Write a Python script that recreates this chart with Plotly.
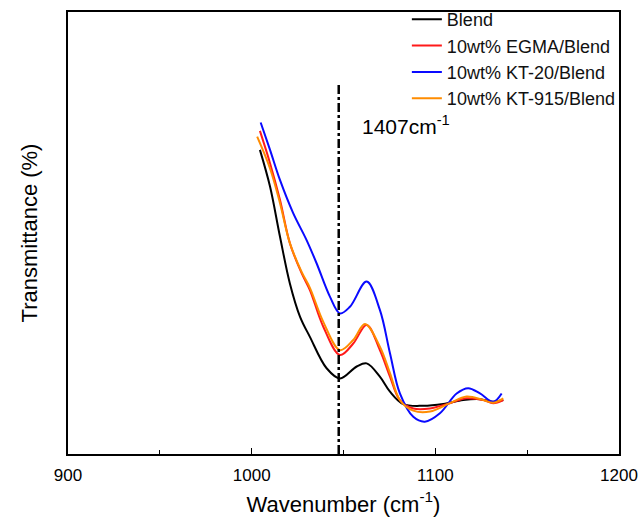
import plotly.graph_objects as go

names = ["Blend", "10wt% EGMA/Blend", "10wt% KT-20/Blend", "10wt% KT-915/Blend"]
colors = ["#000000", "#ff1a1a", "#0a0aff", "#ff8c00"]

x_blend = [1004.5, 1010, 1015.4, 1020.8, 1026.3, 1031.7, 1040.8, 1048.1, 1057.2, 1062.6, 1069.8, 1075.3, 1082.5, 1093.4, 1104.3, 1115.2, 1124.3, 1131.5, 1137]
y_blend = [68.8, 60.5, 49.2, 38.6, 31.1, 26.5, 19.4, 17.1, 19.8, 20.5, 17.5, 14.1, 11.3, 10.9, 11.3, 12.2, 12.4, 11.8, 12.2]

x_egma = [1004.5, 1010, 1015.4, 1020.8, 1027.2, 1031.7, 1039.0, 1048.1, 1055.3, 1062.6, 1069.8, 1075.3, 1080.7, 1088.0, 1097.1, 1107.9, 1117.0, 1126.1, 1131.5, 1137]
y_egma = [73.1, 65.8, 57.5, 47.7, 40.9, 37.1, 28.8, 22.4, 25.0, 29.2, 23.5, 17.5, 12.2, 10.3, 10.3, 11.5, 12.6, 12.2, 11.5, 12.2]

x_kt20 = [1004.9, 1010, 1015.4, 1022.6, 1029.9, 1035.4, 1042.6, 1048.1, 1053.5, 1062.6, 1069.8, 1075.3, 1080.7, 1088.0, 1094.3, 1102.5, 1111.6, 1117.9, 1124.3, 1131.5, 1136.1]
y_kt20 = [75.0, 68.8, 62.0, 54.5, 48.4, 43.1, 35.6, 31.8, 33.3, 39.0, 32.6, 22.8, 13.7, 8.4, 7.3, 9.2, 13.7, 14.9, 13.7, 11.8, 13.7]

x_kt915 = [1003.0, 1010, 1015.4, 1020.8, 1027.2, 1031.7, 1039.0, 1048.1, 1055.3, 1061.7, 1069.8, 1075.3, 1080.7, 1088.0, 1097.1, 1107.9, 1117.0, 1126.1, 1131.5, 1137]
y_kt915 = [71.8, 64.6, 56.8, 47.7, 41.2, 37.6, 29.9, 23.5, 25.8, 29.4, 24.3, 18.3, 12.2, 9.8, 9.6, 11.5, 13.0, 12.2, 11.6, 12.6]

peak_x = 1047.4
peak_label = "1407cm<sup>-1</sup>"

xs = [x_blend, x_egma, x_kt20, x_kt915]
ys = [y_blend, y_egma, y_kt20, y_kt915]

fig = go.Figure()
for i in range(4):
    fig.add_trace(go.Scatter(
        x=xs[i], y=ys[i], mode="lines", name=names[i],
        line=dict(color=colors[i], width=2, shape="spline", smoothing=1.0),
        legendgroup=f"g{i}",
    ))

fig.add_shape(type="line", xref="x", yref="y", x0=peak_x, x1=peak_x, y0=0, y1=83.5,
              line=dict(color="black", width=2.5, dash="dashdot"))
fig.add_annotation(x=1059, y=74.5, xref="x", yref="y", text=peak_label,
                   showarrow=False, xanchor="left", yanchor="middle",
                   font=dict(size=21, color="black", family="Liberation Sans, Arial"))

fig.update_layout(
    width=640, height=524,
    margin=dict(l=68, r=21, t=12, b=70, autoexpand=False),
    paper_bgcolor="white", plot_bgcolor="white",
    font=dict(family="Liberation Sans, Arial", color="black"),
    showlegend=True,
    legend=dict(x=0.615, y=1.025, xanchor="left", yanchor="top",
                font=dict(size=18, color="#111111"), bgcolor="rgba(0,0,0,0)",
                tracegroupgap=0),
    xaxis=dict(range=[900, 1200], tickvals=[900, 1000, 1100, 1200],
               ticks="inside", ticklen=6, tickwidth=1.2, tickcolor="black",
               minor=dict(tickvals=[950, 1050, 1150], ticks="inside", ticklen=4, tickwidth=1.2, tickcolor="black"),
               showline=True, linecolor="black", linewidth=1.5, mirror=True,
               showgrid=False, zeroline=False, ticklabelstandoff=5,
               tickfont=dict(size=17), title=dict(text="Wavenumber (cm<sup>-1</sup>)", font=dict(size=22), standoff=12)),
    yaxis=dict(range=[0, 100], showticklabels=False, ticks="",
               showline=True, linecolor="black", linewidth=1.5, mirror=True,
               showgrid=False, zeroline=False,
               title=dict(text="Transmittance (%)", font=dict(size=22), standoff=23)),
)

fig.write_html("out.html")
